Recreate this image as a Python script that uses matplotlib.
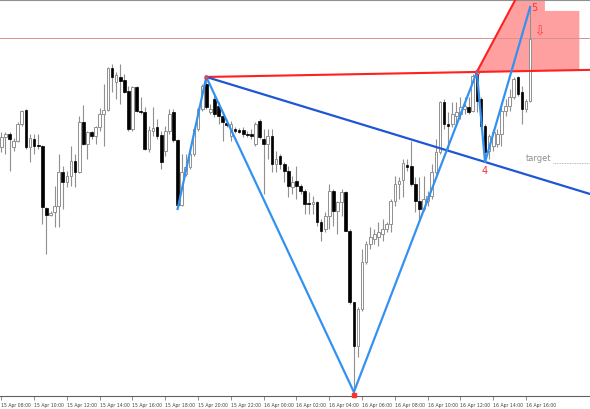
import numpy as np
import matplotlib
matplotlib.use("Agg")
import matplotlib.pyplot as plt

# M15 candles, prices in chart points (higher = higher price)
opens = [252, 262, 265, 252, 258, 275, 289, 252, 260, 254, 253, 191, 184, 187, 193, 227, 217, 223, 238, 227,
         277, 255, 267, 263, 272, 285, 289, 331, 317, 322, 319, 308, 270, 312, 288, 287, 250, 268, 272, 264,
         248, 268, 287, 259, 194, 225, 232, 245, 270, 290, 315, 287, 300, 293, 283, 276, 263, 270, 269, 269,
         265, 265, 255, 278, 260, 255, 263, 235, 243, 235, 228, 212, 218, 213, 208, 196, 195, 197, 177, 170,
         183, 208, 188, 197, 207, 168, 97, 53, 90, 137, 155, 160, 162, 165, 170, 175, 198, 215, 219, 234,
         233, 215, 198, 190, 198, 203, 227, 247, 297, 275, 275, 283, 285, 290, 292, 288, 325, 300, 273, 248,
         253, 255, 265, 288, 293, 302, 322, 307, 290, 298]
highs = [267, 267, 267, 261, 277, 289, 290, 265, 265, 265, 254, 192, 188, 213, 245, 233, 228, 253, 245, 283,
         294, 268, 268, 273, 291, 315, 332, 335, 327, 335, 325, 313, 313, 313, 302, 292, 273, 292, 280, 268,
         273, 290, 290, 260, 245, 245, 252, 272, 292, 315, 322, 295, 305, 297, 287, 278, 278, 272, 271, 272,
         268, 270, 277, 280, 270, 270, 270, 248, 245, 237, 233, 223, 233, 215, 210, 207, 203, 198, 180, 187,
         215, 210, 198, 210, 208, 170, 97, 92, 150, 158, 172, 170, 177, 180, 177, 200, 223, 222, 240, 240,
         258, 222, 222, 223, 208, 235, 260, 298, 300, 287, 297, 297, 302, 302, 302, 325, 327, 302, 275, 265,
         270, 270, 293, 300, 310, 322, 323, 313, 300, 392]
lows = [247, 245, 228, 248, 257, 273, 250, 237, 245, 250, 175, 145, 183, 172, 172, 190, 212, 213, 212, 226,
        254, 240, 260, 255, 268, 253, 288, 307, 300, 295, 306, 268, 268, 287, 285, 249, 247, 263, 260, 230,
        243, 265, 257, 192, 193, 223, 230, 243, 268, 288, 290, 285, 282, 275, 258, 272, 258, 266, 266, 262,
        262, 260, 253, 260, 205, 240, 227, 227, 230, 217, 202, 205, 200, 205, 185, 185, 185, 173, 158, 167,
        170, 173, 165, 183, 168, 95, 7, 42, 88, 135, 150, 155, 153, 158, 167, 167, 193, 200, 202, 228,
        213, 187, 178, 188, 193, 200, 225, 245, 270, 250, 272, 273, 280, 285, 285, 287, 287, 270, 237, 240,
        248, 252, 253, 283, 288, 300, 303, 275, 287, 297]
closes = [262, 265, 260, 258, 275, 288, 252, 261, 253, 253, 192, 184, 186, 193, 227, 217, 223, 238, 227, 277,
          255, 267, 263, 272, 285, 289, 331, 322, 324, 318, 307, 270, 312, 288, 287, 250, 269, 271, 263, 237,
          268, 285, 259, 194, 227, 232, 245, 270, 290, 313, 292, 290, 285, 283, 277, 274, 275, 268, 267, 265,
          264, 263, 275, 262, 255, 263, 235, 240, 235, 228, 213, 217, 213, 208, 195, 195, 197, 177, 168, 183,
          208, 188, 197, 207, 168, 97, 53, 90, 137, 155, 162, 165, 167, 170, 175, 198, 215, 218, 236, 232,
          215, 198, 190, 200, 203, 227, 247, 297, 275, 273, 285, 287, 292, 293, 287, 323, 298, 273, 247, 263,
          267, 265, 288, 293, 302, 320, 305, 290, 298, 360]

tick_labels = ["15 Apr 08:00", "15 Apr 10:00", "15 Apr 12:00", "15 Apr 14:00", "15 Apr 16:00",
               "15 Apr 18:00", "15 Apr 20:00", "15 Apr 22:00", "16 Apr 00:00", "16 Apr 02:00",
               "16 Apr 04:00", "16 Apr 06:00", "16 Apr 08:00", "16 Apr 10:00", "16 Apr 12:00",
               "16 Apr 14:00", "16 Apr 16:00"]

# pattern points: (candle index, price)
pat_idx = [43, 50, 86, 116, 118, 129]
pat_val = [190, 322, 7, 327, 237, 392]

bid_line = 361
target_val = 236

o = np.array(opens); h = np.array(highs); l = np.array(lows); c = np.array(closes)
idx = np.arange(len(o))
x_end = 143.6

fig = plt.figure(figsize=(5.9, 4.1), dpi=100)
ax = fig.add_axes([0, 0.0317, 1, 0.966])
ax.set_xlim(-0.32, x_end)
ax.set_ylim(3, 399)

# reversal zone fill
cx, cv = pat_idx[3], pat_val[3]
slope_ac = (pat_val[3] - pat_val[1]) / (pat_idx[3] - pat_idx[1])
steep = 73 / 9.5
top_x = cx + (399 - cv) / steep
zone_x = [cx, top_x, 132.6, 132.6, 141, 141]
zone_y = [cv, 399, 399, 388, 388, cv + slope_ac * (141 - cx)]
ax.fill(zone_x, zone_y, color="#ffa0a0", zorder=1, lw=0)

ax.axhline(bid_line, color="#d89090", lw=0.7, zorder=2)

# candles
up = c >= o
ax.vlines(idx, l, h, color="#909090", lw=0.8, zorder=3)
body_lo = np.minimum(o, c)
body_h = np.maximum(np.abs(c - o), 0.8)
ax.bar(idx[up], body_h[up], bottom=body_lo[up], width=0.65, color="white",
       edgecolor="#909090", lw=0.7, zorder=4)
ax.bar(idx[~up], body_h[~up], bottom=body_lo[~up], width=0.65, color="black",
       edgecolor="black", lw=0.5, zorder=4)

# red lines
ax.plot([pat_idx[1], x_end], [pat_val[1], pat_val[1] + slope_ac * (x_end - pat_idx[1])],
        color="#ff2020", lw=1.5, zorder=5)
ax.plot([cx, top_x + 2], [cv, cv + steep * (top_x + 2 - cx)], color="#ff2020", lw=1.5, zorder=5)

# AD trendline
slope_ad = (pat_val[4] - pat_val[1]) / (pat_idx[4] - pat_idx[1])
ax.plot([pat_idx[1], x_end], [pat_val[1], pat_val[1] + slope_ad * (x_end - pat_idx[1])],
        color="#1f56d6", lw=1.6, zorder=6)

# zigzag
ax.plot(pat_idx, pat_val, color="#3391f2", lw=1.6, zorder=7)

# point markers and labels
ax.plot(pat_idx[1], pat_val[1], marker="o", ms=2.5, mfc="none", mec="#ff3030", mew=0.8, zorder=8)
ax.plot(pat_idx[3], pat_val[3], marker="o", ms=3, mfc="none", mec="#ff3030", mew=0.8, zorder=8)
ax.plot(pat_idx[2], 4, marker="s", ms=2.5, color="#ff3030", zorder=8, clip_on=False)
ax.text(pat_idx[5] + 0.3, pat_val[5], "5", color="#ff3030", fontsize=7, ha="left", va="center", zorder=9)
ax.text(pat_idx[4], pat_val[4] - 8, "4", color="#ff3030", fontsize=7, ha="center", va="center", zorder=9)
ax.text(131.4, 368, "\u21e9", color="#ff4040", fontsize=9, ha="center", va="center", zorder=9)

ax.text(128, target_val + 5, "target", color="#909090", fontsize=6, ha="left", va="center")
ax.plot([134.6, x_end], [target_val, target_val], color="#a0a0a0", lw=0.6, ls=(0, (1, 1)))

# axes
for s in ["left", "right"]:
    ax.spines[s].set_visible(False)
ax.spines["top"].set_color("#909090")
ax.spines["bottom"].set_color("#606060")
ax.set_yticks([])
ax.set_xticks(np.arange(len(tick_labels)) * 8)
ax.set_xticklabels(tick_labels, fontsize=3.3, ha="left", color="#404040")
ax.tick_params(axis="x", length=3, width=0.5, color="#606060", pad=1)

fig.savefig("out.png", dpi=100)
